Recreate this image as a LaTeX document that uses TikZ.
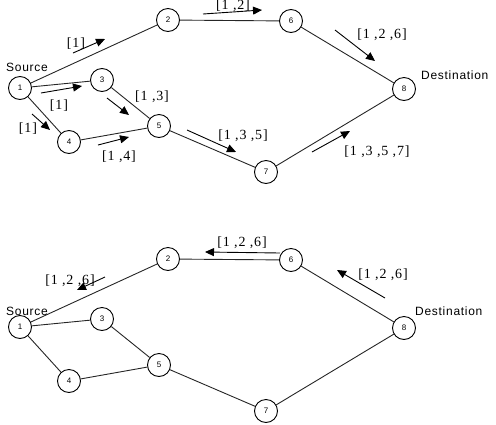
\documentclass[tikz,border=0pt]{standalone}
\usepackage{fontspec}
\setmainfont{Liberation Serif}
\newfontfamily\labserif[LetterSpace=6]{Liberation Serif}
\newfontfamily\labsans[LetterSpace=6]{Liberation Sans}
\newfontfamily\digsans{Liberation Sans}
\usetikzlibrary{arrows.meta}
\begin{document}
\begin{tikzpicture}[x=1pt,y=-1pt,
  vtx/.style={circle,draw,line width=0.9pt,minimum size=23pt,inner sep=0pt,fill=white,
              font=\digsans\fontsize{8}{9}\selectfont},
  edge/.style={line width=0.9pt,draw=black!85},
  flow/.style={line width=0.9pt,-{Triangle[length=9pt,width=8pt]}},
  lab/.style={font=\labserif\fontsize{14}{16}\selectfont,inner sep=0pt},
  side/.style={font=\labsans\fontsize{12}{14}\selectfont,inner sep=0pt,anchor=west}]
\useasboundingbox (0,0) rectangle (496,424);

\foreach \p/\dy in {t/0,b/239}{
  \node[vtx] (\p1) at (20,88+\dy) {1};
  \node[vtx] (\p2) at (168,20+\dy) {2};
  \node[vtx] (\p3) at (102,80+\dy) {3};
  \node[vtx] (\p4) at (69,142+\dy) {4};
  \node[vtx] (\p5) at (159,126+\dy) {5};
  \node[vtx] (\p6) at (291,21+\dy) {6};
  \node[vtx] (\p7) at (266,172+\dy) {7};
  \node[vtx] (\p8) at (404,89+\dy) {8};
  \draw[edge] (\p1)--(\p2) (\p1)--(\p3) (\p1)--(\p4) (\p3)--(\p5) (\p4)--(\p5)
              (\p2)--(\p6) (\p6)--(\p8) (\p5)--(\p7) (\p7)--(\p8);
}

% side labels
\node[side] (srcT) at (6,67) {Source};
\node[side] (dstT) at (421,75) {Destination};
\node[side] (srcB) at (6,311) {Source};
\node[side] (dstB) at (415,311) {Destination};

% top flows
\coordinate (a1s) at (73,53);   \coordinate (a1e) at (105,39);
\coordinate (a2s) at (41,93);   \coordinate (a2e) at (82,86);
\coordinate (a3s) at (32,114);  \coordinate (a3e) at (50,130);
\coordinate (a4s) at (107,98);  \coordinate (a4e) at (129,115);
\coordinate (a5s) at (98,145);  \coordinate (a5e) at (129,137);
\coordinate (a6s) at (187,130); \coordinate (a6e) at (236,152);
\coordinate (a7s) at (312,152); \coordinate (a7e) at (350,131);
\coordinate (a8s) at (203,14);  \coordinate (a8e) at (262,10);
\coordinate (a9s) at (335,30);  \coordinate (a9e) at (375,61);
\foreach \i in {1,...,9}{ \draw[flow] (a\i s) -- (a\i e); }

\node[lab] (l1) at (76,44) {[1]};
\node[lab] (l2) at (59,106) {[1]};
\node[lab] (l3) at (28,129) {[1]};
\node[lab] (l4) at (152,97) {[1 ,3]};
\node[lab] (l5) at (119,157) {[1 ,4]};
\node[lab] (l6) at (243,136) {[1 ,3 ,5]};
\node[lab] (l7) at (377,152) {[1 ,3 ,5 ,7]};
\node[lab] (l8) at (233,6) {[1 ,2]};
\node[lab] (l9) at (382,35) {[1 ,2 ,6]};

% bottom flows (backwards)
\coordinate (b1s) at (105,277); \coordinate (b1e) at (77,290);
\coordinate (b2s) at (280,253); \coordinate (b2e) at (205,252);
\coordinate (b3s) at (385,298); \coordinate (b3e) at (337,270);
\foreach \i in {1,2,3}{ \draw[flow] (b\i s) -- (b\i e); }

\node[lab] (m1) at (70,281) {[1 ,2 ,6]};
\node[lab] (m2) at (242,243) {[1 ,2 ,6]};
\node[lab] (m3) at (383,275) {[1 ,2 ,6]};
\end{tikzpicture}
\end{document}
